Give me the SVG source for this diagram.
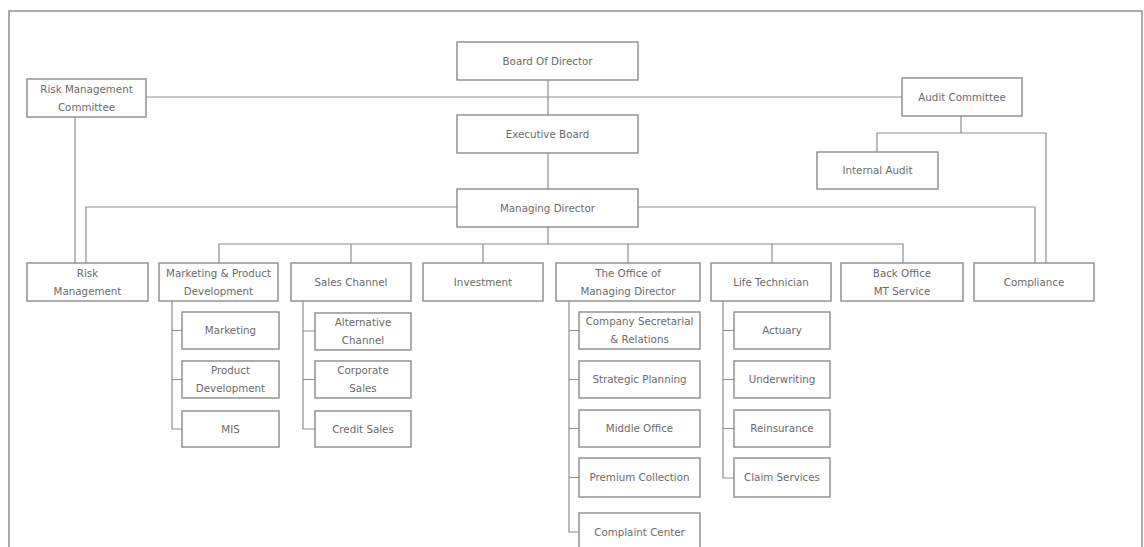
<svg xmlns="http://www.w3.org/2000/svg" width="1144" height="547" viewBox="0 0 1144 547">
<style>
.n rect{fill:#fff;stroke:#8a8a8a;stroke-width:1.4}
.n text{font-family:"DejaVu Sans",Verdana,sans-serif;font-size:10.3px;fill:#6a6a6a;text-anchor:middle}
#connectors path{fill:none;stroke:#8e8e8e;stroke-width:1.2}
</style>
<rect x="0" y="0" width="1144" height="547" fill="#fff"/>
<path d="M9 560 V11 H1142 V560" fill="none" stroke="#a8a8a8" stroke-width="2"/>
<g id="connectors">
<path d="M548 80 V115 M548 153 V189 M548 227 V244"/>
<path d="M146 97 H902"/>
<path d="M75 117 V263"/>
<path d="M457 207 H86 V263 M638 207 H1035 V263"/>
<path d="M961 116 V133 M877 152 V133 H1046 V263"/>
<path d="M219 263 V244 H903 V263 M351 244 V263 M483 244 V263 M628 244 V263 M772 244 V263"/>
<path d="M172 301 V429 H182 M172 330.5 H182 M172 379.5 H182"/>
<path d="M303 301 V429 H315 M303 331 H315 M303 379.5 H315"/>
<path d="M569 301 V532 H579 M569 330.5 H579 M569 379.5 H579 M569 428.5 H579 M569 477.5 H579"/>
<path d="M723 301 V478 H734 M723 330.5 H734 M723 379.5 H734 M723 428.5 H734"/>
</g>
<g id="board" class="n"><rect x="457" y="42" width="181" height="38"/><text x="547.5" y="64.5">Board Of Director</text></g>
<g id="exec" class="n"><rect x="457" y="115" width="181" height="38"/><text x="547.5" y="137.5">Executive Board</text></g>
<g id="md" class="n"><rect x="457" y="189" width="181" height="38"/><text x="547.5" y="211.5">Managing Director</text></g>
<g id="rmc" class="n"><rect x="27" y="79" width="119" height="38"/><text x="86.5" y="92.5">Risk Management</text><text x="86.5" y="110.5">Committee</text></g>
<g id="ac" class="n"><rect x="902" y="78" width="120" height="38"/><text x="962" y="100.5">Audit Committee</text></g>
<g id="ia" class="n"><rect x="817" y="152" width="121" height="37"/><text x="877.5" y="174">Internal Audit</text></g>
<g id="rm" class="n"><rect x="27" y="263" width="121" height="38"/><text x="87.5" y="276.5">Risk</text><text x="87.5" y="294.5">Management</text></g>
<g id="mpd" class="n"><rect x="159" y="263" width="119" height="38"/><text x="218.5" y="276.5">Marketing &amp; Product</text><text x="218.5" y="294.5">Development</text></g>
<g id="sc" class="n"><rect x="291" y="263" width="120" height="38"/><text x="351" y="285.5">Sales Channel</text></g>
<g id="inv" class="n"><rect x="423" y="263" width="120" height="38"/><text x="483" y="285.5">Investment</text></g>
<g id="omd" class="n"><rect x="556" y="263" width="144" height="38"/><text x="628" y="276.5">The Office of</text><text x="628" y="294.5">Managing Director</text></g>
<g id="lt" class="n"><rect x="711" y="263" width="120" height="38"/><text x="771" y="285.5">Life Technician</text></g>
<g id="bo" class="n"><rect x="841" y="263" width="122" height="38"/><text x="902" y="276.5">Back Office</text><text x="902" y="294.5">MT Service</text></g>
<g id="comp" class="n"><rect x="974" y="263" width="120" height="38"/><text x="1034" y="285.5">Compliance</text></g>
<g id="mkt" class="n"><rect x="182" y="312" width="97" height="37"/><text x="230.5" y="334">Marketing</text></g>
<g id="pd" class="n"><rect x="182" y="361" width="97" height="37"/><text x="230.5" y="374">Product</text><text x="230.5" y="392">Development</text></g>
<g id="mis" class="n"><rect x="182" y="411" width="97" height="36"/><text x="230.5" y="432.5">MIS</text></g>
<g id="alt" class="n"><rect x="315" y="313" width="96" height="37"/><text x="363" y="326">Alternative</text><text x="363" y="344">Channel</text></g>
<g id="cs" class="n"><rect x="315" y="361" width="96" height="37"/><text x="363" y="374">Corporate</text><text x="363" y="392">Sales</text></g>
<g id="crs" class="n"><rect x="315" y="411" width="96" height="36"/><text x="363" y="432.5">Credit Sales</text></g>
<g id="csr" class="n"><rect x="579" y="312" width="121" height="37"/><text x="639.5" y="325">Company Secretarial</text><text x="639.5" y="343">&amp; Relations</text></g>
<g id="sp" class="n"><rect x="579" y="361" width="121" height="37"/><text x="639.5" y="383">Strategic Planning</text></g>
<g id="mo" class="n"><rect x="579" y="410" width="121" height="37"/><text x="639.5" y="432">Middle Office</text></g>
<g id="pc" class="n"><rect x="579" y="458" width="121" height="39"/><text x="639.5" y="481">Premium Collection</text></g>
<g id="cc" class="n"><rect x="579" y="513" width="121" height="38"/><text x="639.5" y="536">Complaint Center</text></g>
<g id="act" class="n"><rect x="734" y="312" width="96" height="37"/><text x="782" y="334">Actuary</text></g>
<g id="uw" class="n"><rect x="734" y="361" width="96" height="37"/><text x="782" y="383">Underwriting</text></g>
<g id="ri" class="n"><rect x="734" y="410" width="96" height="37"/><text x="782" y="432">Reinsurance</text></g>
<g id="cls" class="n"><rect x="734" y="458" width="96" height="39"/><text x="782" y="481">Claim Services</text></g>
</svg>
